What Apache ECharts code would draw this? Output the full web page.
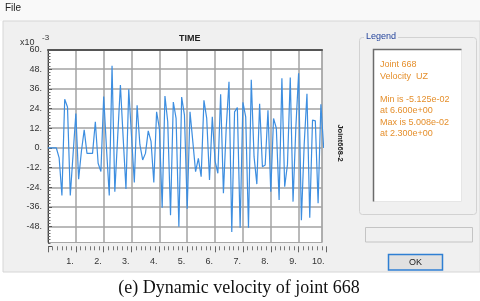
<!DOCTYPE html>
<html><head><meta charset="utf-8">
<script src="https://cdn.jsdelivr.net/npm/echarts@6/dist/echarts.min.js"></script>
<style>html,body{margin:0;padding:0;background:#fff}#c{width:480px;height:301px}</style>
</head><body><div id="c"></div>
<script>
const times = [0.0,0.1,0.2,0.3,0.4,0.5,0.6,0.7,0.8,0.9,
  1.0,1.1,1.2,1.3,1.4,1.5,1.6,1.7,1.8,1.9,
  2.0,2.1,2.2,2.3,2.4,2.5,2.6,2.7,2.8,2.9,
  3.0,3.1,3.2,3.3,3.4,3.5,3.6,3.7,3.8,3.9,
  4.0,4.1,4.2,4.3,4.4,4.5,4.6,4.7,4.8,4.9,
  5.0,5.1,5.2,5.3,5.4,5.5,5.6,5.7,5.8,5.9,
  6.0,6.1,6.2,6.3,6.4,6.5,6.6,6.7,6.8,6.9,
  7.0,7.1,7.2,7.3,7.4,7.5,7.6,7.7,7.8,7.9,
  8.0,8.1,8.2,8.3,8.4,8.5,8.6,8.7,8.8,8.9,
  9.0,9.1,9.2,9.3,9.4,9.5,9.6,9.7,9.8,9.9];
// velocity UZ of joint 668, in units of 1e-3
const velocity = [0,0,0,0,-6,-29,29.7,25,-29,-4,
  21,-19,-2,11,-3.3,-3.3,-3.3,16,-9.3,-14.4,
  31.3,0,-29,50.08,-26.6,6,38.4,6,-25,35.8,
  7,-21,26,2,-7.3,-3.3,10.4,4,-21,22,
  12,-36.4,31.7,16,-41,28,18,-48,31,20,
  -37,22,4,-14.4,-6.3,-17.5,29,18,-19.5,19,
  -8,-15.4,32.7,-27.6,12,40.4,-51.25,22,24.6,-48.6,
  27.8,19,-48.6,41.5,-5.3,-22,27,-11.4,-10.4,23,
  -26.6,18,12,-31.7,42.5,-23.6,-10,42.9,-32.7,12,
  45.5,-44,2,33,-42.5,17,16.5,-33.7,26.6,0];
const xTickLabels = ['1.','2.','3.','4.','5.','6.','7.','8.','9.','10.'];
const yTickLabels = ['-48.','-36.','-24.','-12.','0.','12.','24.','36.','48.','60.'];
const legendLines = ['Joint 668','Velocity  UZ','','Min is -5.125e-02','at 6.600e+00','Max is 5.008e-02','at 2.300e+00'];

const chart = echarts.init(document.getElementById('c'), null, {renderer:'canvas'});
const font = '"Liberation Sans", Arial, sans-serif';
const gridColor = '#a3a3a3';

const legendTexts = legendLines.map((s, i) => ({
  type:'text', left:380, top: [60,72,84,95,106.5,118,129.5][i], z:100,
  style:{text:s, fill:'#e58f2c', font:'9px ' + font}
}));

const option = {
  backgroundColor:'#ffffff',
  animation:false,
  grid:[
    {left:48, top:49.5, width:274, height:193, show:true, backgroundColor:'#ffffff', borderColor:'#a8a8a8', borderWidth:1},
    {left:48, top:49.5, width:274, height:196.8, show:false},
    {left:48, top:49.5, width:278.5, height:196.8, show:false}
  ],
  xAxis:[
    {gridIndex:0, type:'value', min:0, max:9.84, interval:1, position:'top',
     axisLine:{show:true, onZero:false, lineStyle:{color:'#555', width:2}},
     axisTick:{show:false}, axisLabel:{show:false},
     splitLine:{show:true, lineStyle:{color:gridColor, width:1.5}}},
    {gridIndex:1, type:'value', min:0, max:10, show:false},
    {gridIndex:2, type:'value', min:0, max:10, interval:1, position:'bottom',
     axisLine:{show:false, onZero:false},
     axisTick:{show:true, length:6, lineStyle:{color:'#666', width:1}},
     minorTick:{show:true, splitNumber:6, length:4, lineStyle:{color:'#777', width:1}},
     splitLine:{show:false},
     axisLabel:{showMinLabel:false, showMaxLabel:true, align:'right', margin:11, padding:[0,2,0,0],
       fontSize:9, fontFamily:font, color:'#333',
       formatter:(v) => xTickLabels[Math.round(v) - 1] || ''}}
  ],
  yAxis:[
    {gridIndex:0, type:'value', min:-57.6, max:60,
     axisLine:{show:true, onZero:false, lineStyle:{color:'#444', width:1}},
     axisTick:{show:false}, axisLabel:{show:false}, splitLine:{show:false}},
    {gridIndex:1, type:'value', min:-60, max:60, interval:12,
     axisLine:{show:false, onZero:false},
     axisTick:{show:true, inside:true, length:4, lineStyle:{color:'#555'}},
     minorTick:{show:true, splitNumber:6, length:2.5, lineStyle:{color:'#666'}},
     axisLabel:{showMinLabel:false, margin:6, padding:[8,0,0,0], fontSize:9, fontFamily:font, color:'#333',
       formatter:(v) => { const i = Math.round((v + 48) / 12); return yTickLabels[i] || ''; }},
     splitLine:{show:true, showMinLine:false, lineStyle:{color:gridColor, width:1.5}}},
    {gridIndex:2, type:'value', min:-60, max:60, show:false}
  ],
  series:[{
    type:'line', xAxisIndex:0, yAxisIndex:0,
    data: times.map((t, i) => [t, velocity[i]]),
    showSymbol:false, symbol:'none', clip:true,
    lineStyle:{color:'#3d8ee0', width:1.2}
  }],
  graphic:[
    {type:'rect', shape:{x:0, y:0, width:480, height:21}, style:{fill:'#f9f9f9'}, z:-20, silent:true},
    {type:'rect', shape:{x:3, y:21, width:477, height:251}, style:{fill:'#f0f0f0', stroke:'#d6d6d6', lineWidth:1}, z:-20, silent:true},
    {type:'text', left:5, top:3, z:100, style:{text:'File', fill:'#222', font:'10px ' + font}},
    {type:'text', left:20, top:38, z:100, style:{text:'x10', fill:'#333', font:'9px ' + font}},
    {type:'text', left:42, top:34, z:100, style:{text:'-3', fill:'#333', font:'8px ' + font}},
    {type:'text', left:179, top:34.5, z:100, style:{text:'TIME', fill:'#222', font:'bold 9px ' + font}},
    {type:'text', x:340, y:143, rotation:-Math.PI/2, z:100,
     style:{text:'Joint668-2', fill:'#222', font:'bold 7.5px ' + font, align:'center', verticalAlign:'middle'}},
    {type:'rect', shape:{x:359.5, y:37.5, width:117, height:177, r:3}, style:{fill:'none', stroke:'#d2d2d2', lineWidth:1}, z:-5, silent:true},
    {type:'text', left:364, top:32, z:100, style:{text:'Legend', fill:'#24449c', font:'9px ' + font, backgroundColor:'#f0f0f0', padding:[0,2,0,2]}},
    {type:'rect', shape:{x:373.5, y:49.5, width:88, height:152}, style:{fill:'#ffffff', stroke:'#e6e6e6', lineWidth:1}, z:-5, silent:true},
    {type:'polyline', shape:{points:[[373.5,201.5],[373.5,49.5],[461.5,49.5]]}, style:{stroke:'#6b6b6b', lineWidth:1.5, fill:'none'}, z:-4, silent:true},
    ...legendTexts,
    {type:'rect', shape:{x:365.5, y:227.5, width:107, height:14.5}, style:{fill:'#f0f0f0', stroke:'#c4c4c4', lineWidth:1}, z:-5, silent:true},
    {type:'rect', shape:{x:388.5, y:254.5, width:54, height:15.5}, style:{fill:'#e1e1e1', stroke:'#2f7fd3', lineWidth:1.5}, z:-5, silent:true},
    {type:'text', x:415.5, y:262.5, z:100, style:{text:'OK', fill:'#222', font:'9px ' + font, align:'center', verticalAlign:'middle'}},
    {type:'text', x:239, y:288, z:100, style:{text:'(e) Dynamic velocity of joint 668', fill:'#111', font:'18px "Liberation Serif", "Times New Roman", serif', align:'center', verticalAlign:'middle'}}
  ]
};
chart.setOption(option);
</script>
</body></html>
